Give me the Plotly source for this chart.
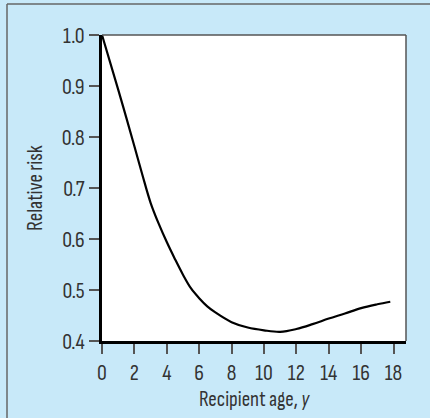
import plotly.graph_objects as go

age = [0, 1, 1.5, 2, 2.5, 3, 3.5, 4, 4.5, 5, 5.5, 6, 6.5, 7, 8, 9, 10, 11, 12, 13, 14, 15, 16, 17, 17.8]
risk = [1.0, 0.893, 0.838, 0.782, 0.725, 0.671, 0.630, 0.594, 0.561, 0.530, 0.503, 0.484, 0.468,
        0.456, 0.437, 0.4265, 0.421, 0.418, 0.4235, 0.433, 0.444, 0.454, 0.4645, 0.472, 0.477]
x_ticks = [0, 2, 4, 6, 8, 10, 12, 14, 16, 18]
y_ticks = [0.4, 0.5, 0.6, 0.7, 0.8, 0.9, 1.0]
y_tick_text = ["0.4", "0.5", "0.6", "0.7", "0.8", "0.9", "1.0"]

FONT = "Sofia Sans Condensed, Asap Condensed, sans-serif"
BG = "#c8e9f9"

fig = go.Figure()
fig.add_trace(go.Scatter(x=age, y=risk, mode="lines",
                         line=dict(color="black", width=2.2, shape="spline", smoothing=1.0),
                         showlegend=False, hoverinfo="skip"))

fig.update_layout(
    width=430, height=418,
    margin=dict(l=102, r=24, t=35, b=77),
    paper_bgcolor=BG, plot_bgcolor="white",
    font=dict(family=FONT, size=20, color="#333333"),
    xaxis=dict(range=[0, 18.77], tickvals=x_ticks, ticks="outside", ticklen=10,
               tickwidth=1.5, tickcolor="#555", showgrid=False, zeroline=False,
               showline=True, linecolor="black", linewidth=3,
               tickfont=dict(size=22),
               title=dict(text="Recipient age, <i>y</i>", font=dict(size=21), standoff=4)),
    yaxis=dict(range=[0.4, 1.0], tickvals=y_ticks, ticktext=y_tick_text, ticks="outside",
               ticklen=10, tickwidth=1.5, tickcolor="#555", showgrid=False, zeroline=False,
               showline=True, linecolor="black", linewidth=3,
               tickfont=dict(size=22),
               title=dict(text="Relative risk", font=dict(size=21), standoff=14)),
    shapes=[
        dict(type="line", xref="paper", yref="paper", x0=0, x1=1, y0=1, y1=1,
             line=dict(color="#555", width=1.5)),
        dict(type="line", xref="paper", yref="paper", x0=1, x1=1, y0=0, y1=1,
             line=dict(color="#555", width=1.5)),
        dict(type="line", xref="paper", yref="paper", x0=-0.3125, x1=-0.3125, y0=-0.5, y1=1.1013,
             line=dict(color="#666", width=1.5)),
        dict(type="line", xref="paper", yref="paper", x0=-0.3125, x1=1.2, y0=1.1013, y1=1.1013,
             line=dict(color="#666", width=1.5)),
    ],
)

fig.write_html("out.html", post_script="document.body.style.margin='0';",
               config={"displayModeBar": False})
